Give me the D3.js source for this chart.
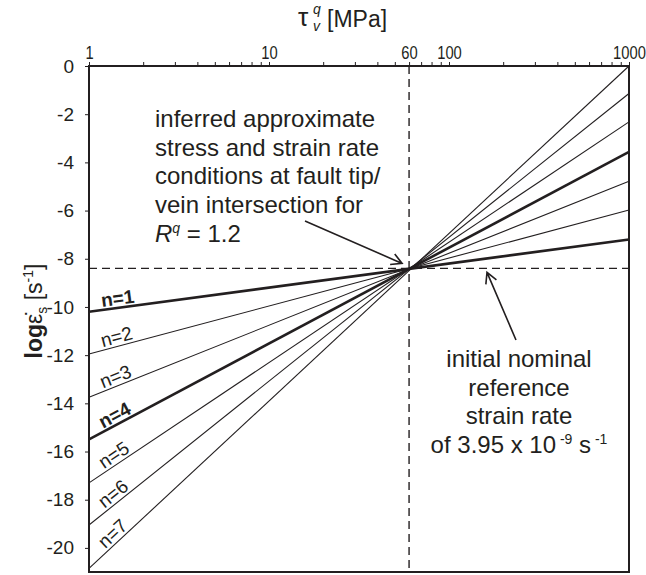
<!DOCTYPE html>
<html><head><meta charset="utf-8">
<script src="https://cdn.jsdelivr.net/npm/d3@7"></script>
<style>body{margin:0;background:#fff}</style>
</head><body>
<svg id="chart" width="646" height="575"></svg>
<script>
// ---- data ----
const stressLabelTicks = [1, 10, 60, 100, 1000];
const stressMinorTicks = [1,2,3,4,5,6,7,8,9,10,20,30,40,50,60,70,80,90,100,200,300,400,500,600,700,800,900,1000];
const rateTicks = [-20,-18,-16,-14,-12,-10,-8,-6,-4,-2,0];
const nValues = [1, 2, 3, 4, 5, 6, 7];
const rateAtTau1 = [-10.2, -11.95, -13.75, -15.5, -17.3, -19.05, -20.85];
const rateAtTau1000 = [-7.2, -5.98, -4.78, -3.56, -2.32, -1.14, 0];
const boldN = [1, 4];
const refStress = 60;
const refRate = -8.4;

const ink = "#231f20";
const svg = d3.select("#chart");
const x = d3.scaleLog().domain([1, 1000]).range([89, 629]);
const y = d3.scaleLinear().domain([-21, 0]).range([572, 66]);

const sans = "'Liberation Sans',Arial,sans-serif";

// dashed reference lines
svg.append("line").attr("x1", x(1)).attr("x2", x(1000)).attr("y1", y(refRate)).attr("y2", y(refRate))
  .attr("stroke", ink).attr("stroke-width", 1.4).attr("stroke-dasharray", "8,5");
svg.append("line").attr("x1", x(refStress)).attr("x2", x(refStress)).attr("y1", y(0)).attr("y2", y(-21))
  .attr("stroke", ink).attr("stroke-width", 1.4).attr("stroke-dasharray", "8,5");

// lines
const lines = nValues.map((n, i) => ({n, a: rateAtTau1[i], b: rateAtTau1000[i]}));
svg.append("g").selectAll("line").data(lines).join("line")
  .attr("x1", x(1)).attr("y1", d => y(d.a))
  .attr("x2", x(1000)).attr("y2", d => y(d.b))
  .attr("stroke", ink)
  .attr("stroke-width", d => boldN.includes(d.n) ? 2.6 : 1.1);

// n labels along lines
const labelX = 119;
lines.forEach(d => {
  const px1 = x(1), py1 = y(d.a), px2 = x(1000), py2 = y(d.b);
  const slope = (py2 - py1) / (px2 - px1);
  const ly = py1 + slope * (labelX - px1);
  const ang = Math.atan(slope) * 180 / Math.PI;
  svg.append("text")
    .attr("transform", `translate(${labelX},${ly}) rotate(${ang})`)
    .attr("dy", -3)
    .attr("text-anchor", "middle")
    .attr("font-family", sans)
    .attr("font-size", 19)
    .attr("font-weight", boldN.includes(d.n) ? "bold" : "normal")
    .attr("fill", ink)
    .text("n=" + d.n);
});

// frame
svg.append("rect").attr("x", x(1)).attr("y", y(0)).attr("width", x(1000) - x(1)).attr("height", y(-21) - y(0))
  .attr("fill", "none").attr("stroke", ink).attr("stroke-width", 2);

// top axis: minor ticks
const topMinor = svg.append("g").attr("transform", `translate(0,${y(0)})`)
  .call(d3.axisTop(x).tickValues(stressMinorTicks).tickSize(4).tickFormat(""));
topMinor.select(".domain").remove();
topMinor.selectAll("line").attr("stroke", ink).attr("stroke-width", 1);
// top axis labels (condensed look)
const topLab = svg.append("g").attr("transform", `translate(0,${y(0)})`)
  .call(d3.axisTop(x).tickValues(stressLabelTicks).tickSize(0).tickPadding(7).tickFormat(d3.format("d")));
topLab.select(".domain").remove();
topLab.selectAll("text").attr("font-family", sans).attr("font-size", 18).attr("fill", ink)
  .attr("transform", "scale(0.82,1)");

// left axis
const left = svg.append("g").attr("transform", `translate(${x(1)},0)`)
  .call(d3.axisLeft(y).tickValues(rateTicks).tickSize(4).tickPadding(11).tickFormat(d3.format("d")));
left.select(".domain").remove();
left.selectAll("line").attr("stroke", ink).attr("stroke-width", 1);
left.selectAll("text").attr("font-family", sans).attr("font-size", 19).attr("fill", ink)
  .text(d => String(d).replace("\u2212", "-"));

// title
const title = svg.append("g").attr("font-family", sans).attr("fill", ink);
title.append("text").attr("x", 298).attr("y", 26).attr("font-size", 26).text("\u03c4");
title.append("text").attr("x", 313).attr("y", 14).attr("font-size", 14).attr("font-style", "italic").text("q");
title.append("text").attr("x", 313).attr("y", 31).attr("font-size", 14).attr("font-style", "italic").text("v");
title.append("text").attr("x", 327).attr("y", 27).attr("font-size", 23).text("[MPa]");

// y label
const yl = svg.append("text").attr("transform", "translate(42,311) rotate(-90)")
  .attr("text-anchor", "middle").attr("font-family", sans).attr("font-size", 23).attr("fill", ink);
yl.append("tspan").attr("font-weight", "bold").text("log");
yl.append("tspan").text("\u03b5\u0307");
yl.append("tspan").attr("font-size", 14).attr("dy", 5).text("s");
yl.append("tspan").attr("dy", -5).text(" [s");
yl.append("tspan").attr("font-size", 14).attr("dy", -9).text("-1");
yl.append("tspan").attr("dy", 9).text("]");

// annotation 1
const ann1 = ["inferred approximate", "stress and strain rate", "conditions at fault tip/", "vein intersection for"];
const a1 = svg.append("g").attr("font-family", sans).attr("font-size", 24).attr("fill", ink);
ann1.forEach((t, i) => a1.append("text").attr("x", 155).attr("y", 127 + i * 28.7).text(t));
const rq = a1.append("text").attr("x", 155).attr("y", 127 + 4 * 28.7);
rq.append("tspan").attr("font-style", "italic").text("R");
rq.append("tspan").attr("font-size", 14).attr("font-style", "italic").attr("dy", -9).text("q");
rq.append("tspan").attr("dy", 9).text(" = 1.2");

// annotation 2
const ann2 = ["initial nominal", "reference", "strain rate"];
const a2 = svg.append("g").attr("font-family", sans).attr("font-size", 24).attr("fill", ink).attr("text-anchor", "middle");
ann2.forEach((t, i) => a2.append("text").attr("x", 519).attr("y", 367 + i * 28.5).text(t));
const last = a2.append("text").attr("x", 519).attr("y", 367 + 3 * 28.5);
last.append("tspan").text("of 3.95 x 10");
last.append("tspan").attr("font-size", 14).attr("dy", -9).text(" -9");
last.append("tspan").attr("dy", 9).text(" s");
last.append("tspan").attr("font-size", 14).attr("dy", -9).text(" -1");

// arrows
function arrow(sx, sy, tx, ty) {
  const ang = Math.atan2(ty - sy, tx - sx);
  const L = 12, w = 0.5;
  const p1 = [tx - L * Math.cos(ang - w), ty - L * Math.sin(ang - w)];
  const p2 = [tx - L * Math.cos(ang + w), ty - L * Math.sin(ang + w)];
  svg.append("path").attr("d", `M${sx},${sy}L${tx},${ty}M${p1}L${tx},${ty}L${p2}`)
    .attr("fill", "none").attr("stroke", ink).attr("stroke-width", 1.6);
}
arrow(305, 221, x(refStress) - 7, y(refRate) - 5);
arrow(516, 340, 487, y(refRate) + 4);
</script>
</body></html>
